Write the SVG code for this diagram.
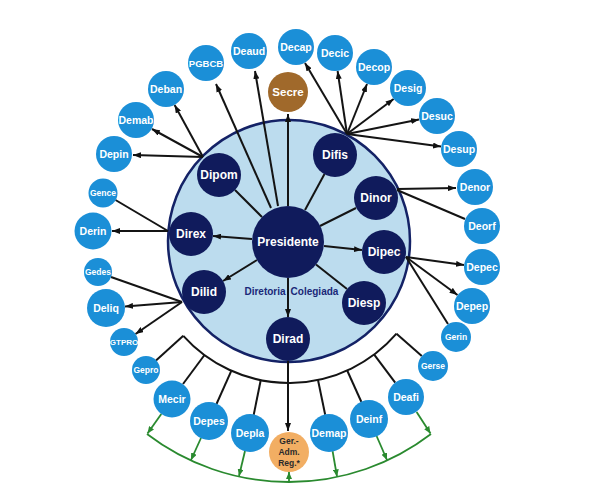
<svg xmlns="http://www.w3.org/2000/svg" width="616" height="490" viewBox="0 0 616 490">
<defs>
<marker id="ab" markerUnits="userSpaceOnUse" markerWidth="8" markerHeight="6" refX="8" refY="3" orient="auto"><path d="M0,0 L8,3 L0,6 z" fill="#111"/></marker>
<marker id="ag" markerUnits="userSpaceOnUse" markerWidth="7" markerHeight="6" refX="7" refY="3" orient="auto"><path d="M0,0 L7,3 L0,6 z" fill="#2a8a2f"/></marker>
</defs>
<style>
.k{stroke:#141414;stroke-width:2;fill:none}
.ka{stroke:#141414;stroke-width:2;fill:none;marker-end:url(#ab)}
.g{stroke:#2a8a2f;stroke-width:1.8;fill:none}
.ga{stroke:#2a8a2f;stroke-width:1.8;fill:none;marker-end:url(#ag)}
.dk{fill:#101b5c}
.bl{fill:#1b8fd7}
text{font-family:"Liberation Sans",Arial,sans-serif;font-weight:bold;text-anchor:middle}
.ti{fill:#fff;font-size:12px}
.to{fill:#fff;font-size:10.5px}
.ts{fill:#fff;font-size:8.5px}
</style>
<rect width="616" height="490" fill="#fff"/>
<g id="board">
<circle cx="289" cy="241" r="121" fill="#bcdcee" stroke="#142266" stroke-width="2.5"/>
</g>
<g id="connectors">
<line class="ka" x1="288" y1="206" x2="288" y2="114"/>
<line class="ka" x1="271" y1="208" x2="216" y2="84"/>
<line class="ka" x1="278" y1="206" x2="255" y2="71"/>
<line class="k" x1="262" y1="217" x2="235" y2="190"/>
<line class="k" x1="305" y1="210" x2="324.5" y2="174"/>
<line class="k" x1="320" y1="226" x2="356" y2="208"/>
<line class="ka" x1="324" y1="246" x2="362" y2="250"/>
<line class="k" x1="316" y1="264.5" x2="347" y2="289"/>
<line class="ka" x1="288" y1="278" x2="288" y2="317"/>
<line class="ka" x1="257" y1="260" x2="223" y2="281"/>
<line class="ka" x1="252" y1="239" x2="213" y2="236"/>
<line class="ka" x1="347" y1="134" x2="305" y2="63"/>
<line class="ka" x1="347" y1="134" x2="337.6" y2="71"/>
<line class="ka" x1="347" y1="134" x2="367" y2="84"/>
<line class="ka" x1="347" y1="134" x2="393.6" y2="99"/>
<line class="ka" x1="347" y1="134" x2="419" y2="119.5"/>
<line class="ka" x1="347" y1="134" x2="441" y2="146.6"/>
<line class="ka" x1="397" y1="189" x2="456" y2="188"/>
<line class="k" x1="397" y1="190" x2="465" y2="219"/>
<line class="ka" x1="406" y1="257" x2="464" y2="265"/>
<line class="ka" x1="406" y1="257" x2="457.5" y2="295"/>
<line class="k" x1="406" y1="257" x2="448" y2="324"/>
<line class="ka" x1="203" y1="157" x2="133" y2="155"/>
<line class="ka" x1="203" y1="157" x2="152" y2="129"/>
<line class="ka" x1="203" y1="157" x2="174.6" y2="105"/>
<line class="k" x1="168" y1="231" x2="115.5" y2="200"/>
<line class="ka" x1="168" y1="231" x2="112" y2="231"/>
<line class="k" x1="182" y1="302" x2="111" y2="277"/>
<line class="ka" x1="182" y1="302" x2="125" y2="306.5"/>
<line class="ka" x1="182" y1="302" x2="135.5" y2="334"/>
<path class="k" d="M183.3,335.8 A142,142 0 0 0 396.5,333.7"/>
<line class="k" x1="183.3" y1="335.8" x2="156" y2="360.5"/>
<line class="k" x1="396.5" y1="333.7" x2="421.8" y2="356"/>
<line class="k" x1="204.5" y1="355" x2="183" y2="384"/>
<line class="k" x1="231.3" y1="370.8" x2="216.5" y2="404"/>
<line class="k" x1="260.7" y1="380.2" x2="253.7" y2="414.9"/>
<line class="k" x1="318" y1="380" x2="325.2" y2="414.8"/>
<line class="k" x1="347.2" y1="370.5" x2="361.4" y2="402"/>
<line class="k" x1="374.2" y1="354.6" x2="395.2" y2="382.6"/>
<line class="ka" x1="288" y1="361" x2="288" y2="431"/>
<path class="g" d="M147,434 A234,234 0 0 0 431,434"/>
<line class="ga" x1="161.3" y1="414" x2="147.5" y2="433.5"/>
<line class="ga" x1="201" y1="438" x2="191" y2="460"/>
<line class="ga" x1="245" y1="451" x2="239" y2="476"/>
<line class="ga" x1="289" y1="482" x2="289" y2="472"/>
<line class="ga" x1="332.6" y1="451.2" x2="337" y2="476.5"/>
<line class="ga" x1="376.6" y1="436" x2="387" y2="460"/>
<line class="ga" x1="416.6" y1="412" x2="430.5" y2="433.5"/>
</g>
<g id="node-Presidente"><circle class="dk" cx="288" cy="242" r="36"/><text class="ti" x="288" y="246.2">Presidente</text></g>
<g id="node-Dipom"><circle class="dk" cx="219" cy="175" r="22"/><text class="ti" x="219" y="179.2">Dipom</text></g>
<g id="node-Difis"><circle class="dk" cx="335" cy="155" r="22"/><text class="ti" x="335" y="159.2">Difis</text></g>
<g id="node-Dinor"><circle class="dk" cx="376" cy="198" r="22"/><text class="ti" x="376" y="202.2">Dinor</text></g>
<g id="node-Dipec"><circle class="dk" cx="384" cy="252" r="22"/><text class="ti" x="384" y="256.2">Dipec</text></g>
<g id="node-Diesp"><circle class="dk" cx="364" cy="303" r="22"/><text class="ti" x="364" y="307.2">Diesp</text></g>
<g id="node-Dirad"><circle class="dk" cx="288" cy="339" r="22"/><text class="ti" x="288" y="343.2">Dirad</text></g>
<g id="node-Dilid"><circle class="dk" cx="204" cy="292" r="22"/><text class="ti" x="204" y="296.2">Dilid</text></g>
<g id="node-Direx"><circle class="dk" cx="191" cy="234" r="22"/><text class="ti" x="191" y="238.2">Direx</text></g>
<g id="label-colegiada"><text x="265" y="294.5" style="font-size:10px;fill:#1a2878">Diretoria</text><text x="314.5" y="294.5" style="font-size:10px;fill:#1a2878">Colegiada</text></g>
<g id="node-Secre"><circle cx="288" cy="92" r="20" fill="#a0692b"/><text x="288" y="96" style="font-size:11.5px;fill:#fff">Secre</text></g>
<g id="node-Deaud"><circle class="bl" cx="249" cy="51" r="18"/><text class="to" x="249" y="54.7">Deaud</text></g>
<g id="node-PGBCB"><circle class="bl" cx="206" cy="63" r="18"/><text class="to" x="206" y="66.7" style="font-size:9.5px">PGBCB</text></g>
<g id="node-Deban"><circle class="bl" cx="166" cy="89" r="18"/><text class="to" x="166" y="92.7">Deban</text></g>
<g id="node-Demab"><circle class="bl" cx="136" cy="120" r="18"/><text class="to" x="136" y="123.7">Demab</text></g>
<g id="node-Depin"><circle class="bl" cx="114" cy="154" r="18"/><text class="to" x="114" y="157.7">Depin</text></g>
<g id="node-Gence"><circle class="bl" cx="103" cy="193" r="14.5"/><text class="ts" x="103" y="196">Gence</text></g>
<g id="node-Derin"><circle class="bl" cx="93" cy="231" r="18.5"/><text class="to" x="93" y="234.7">Derin</text></g>
<g id="node-Gedes"><circle class="bl" cx="98" cy="272" r="14"/><text class="ts" x="98" y="275">Gedes</text></g>
<g id="node-Deliq"><circle class="bl" cx="106" cy="308" r="19"/><text class="to" x="106" y="311.7">Deliq</text></g>
<g id="node-GTPRO"><circle class="bl" cx="124" cy="342" r="14"/><text class="ts" x="124" y="345" style="font-size:8px">GTPRO</text></g>
<g id="node-Gepro"><circle class="bl" cx="146" cy="370" r="14"/><text class="ts" x="146" y="373">Gepro</text></g>
<g id="node-Mecir"><circle class="bl" cx="172" cy="399" r="18.5"/><text class="to" x="172" y="402.7">Mecir</text></g>
<g id="node-Depes"><circle class="bl" cx="209" cy="421" r="19"/><text class="to" x="209" y="424.7">Depes</text></g>
<g id="node-Depla"><circle class="bl" cx="250" cy="433" r="19"/><text class="to" x="250" y="436.7">Depla</text></g>
<g id="node-GerAdmReg"><circle cx="289" cy="452" r="20" fill="#f2ae63"/><text x="289" y="444" style="font-size:8.5px;fill:#2b2b2b">Ger.-</text><text x="289" y="455" style="font-size:8.5px;fill:#2b2b2b">Adm.</text><text x="289" y="466" style="font-size:8.5px;fill:#2b2b2b">Reg.*</text></g>
<g id="node-Demap"><circle class="bl" cx="329" cy="433" r="19"/><text class="to" x="329" y="436.7">Demap</text></g>
<g id="node-Deinf"><circle class="bl" cx="369" cy="419" r="19"/><text class="to" x="369" y="422.7">Deinf</text></g>
<g id="node-Deafi"><circle class="bl" cx="406" cy="397" r="18"/><text class="to" x="406" y="400.7">Deafi</text></g>
<g id="node-Gerse"><circle class="bl" cx="433" cy="366" r="15"/><text class="ts" x="433" y="369">Gerse</text></g>
<g id="node-Gerin"><circle class="bl" cx="456" cy="337" r="15"/><text class="ts" x="456" y="340">Gerin</text></g>
<g id="node-Depep"><circle class="bl" cx="472" cy="306" r="18"/><text class="to" x="472" y="309.7">Depep</text></g>
<g id="node-Depec"><circle class="bl" cx="482" cy="267" r="18"/><text class="to" x="482" y="270.7">Depec</text></g>
<g id="node-Deorf"><circle class="bl" cx="482" cy="226" r="18"/><text class="to" x="482" y="229.7">Deorf</text></g>
<g id="node-Denor"><circle class="bl" cx="475" cy="187" r="18"/><text class="to" x="475" y="190.7">Denor</text></g>
<g id="node-Desup"><circle class="bl" cx="459" cy="149" r="18"/><text class="to" x="459" y="152.7">Desup</text></g>
<g id="node-Desuc"><circle class="bl" cx="437" cy="116" r="18"/><text class="to" x="437" y="119.7">Desuc</text></g>
<g id="node-Desig"><circle class="bl" cx="408" cy="88" r="18"/><text class="to" x="408" y="91.7">Desig</text></g>
<g id="node-Decop"><circle class="bl" cx="374" cy="67" r="18"/><text class="to" x="374" y="70.7">Decop</text></g>
<g id="node-Decic"><circle class="bl" cx="335" cy="53" r="18"/><text class="to" x="335" y="56.7">Decic</text></g>
<g id="node-Decap"><circle class="bl" cx="296" cy="47" r="18"/><text class="to" x="296" y="50.7">Decap</text></g>
</svg>
